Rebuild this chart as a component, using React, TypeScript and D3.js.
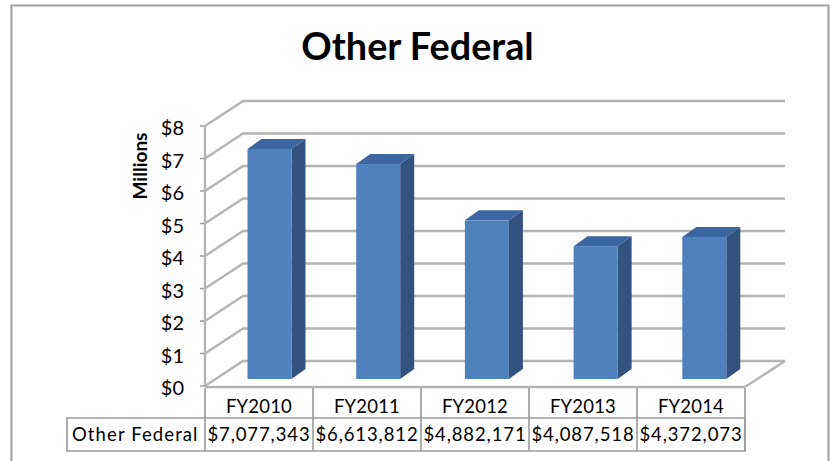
import React from "react";
import * as d3 from "d3";

const categories = ["FY2010", "FY2011", "FY2012", "FY2013", "FY2014"];
const values = [7077343, 6613812, 4882171, 4087518, 4372073];
const valueLabels = ["$7,077,343", "$6,613,812", "$4,882,171", "$4,087,518", "$4,372,073"];
const seriesName = "Other Federal";
const yTicks = [0, 1, 2, 3, 4, 5, 6, 7, 8];

const FONT = "Lato, 'Open Sans', sans-serif";
const GRID = "#b4b4b4";
const LINE = "#9a9a9a";

export default function App() {
  const y = d3.scaleLinear().domain([0, 8000000]).range([386, 126]);
  const x = d3.scaleBand<string>().domain(categories).range([205, 745]);
  const depthX = 38;
  const depthY = -25;
  const barW = 44;
  const barDX = 10.5;
  const barDY = -7;
  const sideX = 14;
  const sideY = -10;
  const tableLeft = 67;
  const rowTop = 388;
  const rowMid = 418;
  const rowBottom = 451;

  return (
    <svg
      width={831}
      height={461}
      style={{ position: "absolute", left: 0, top: 0, background: "#fff" }}
      fontFamily={FONT}
    >
      <defs>
        <filter id="soft" x="-5%" y="-5%" width="110%" height="110%">
          <feGaussianBlur stdDeviation="0.45" />
        </filter>
      </defs>
      <path d="M11.5 461V5.5H828.5V461" fill="none" stroke="#a0a0a0" strokeWidth={2} />
      <text x={417.5} y={60} textAnchor="middle" fontSize={37.8} fontWeight={700} fill="#000">
        {seriesName}
      </text>

      <g filter="url(#soft)">
        {yTicks.map((t) => {
          const v = y(t * 1000000);
          return (
            <g key={t}>
              <path
                d={`M205 ${v}L${205 + depthX} ${v + depthY}H785`}
                fill="none"
                stroke={GRID}
                strokeWidth={2.4}
              />
              <line x1={200} x2={205} y1={v} y2={v} stroke={LINE} strokeWidth={1.5} />
            </g>
          );
        })}
        <line x1={205} x2={205} y1={126} y2={387} stroke={GRID} strokeWidth={2.4} />
        <line x1={205} x2={745} y1={387} y2={387} stroke={GRID} strokeWidth={2.4} />
        <line x1={745} x2={785} y1={387} y2={361} stroke={GRID} strokeWidth={2.4} />

        {categories.map((c, i) => {
          const left = (x(c) as number) + (x.bandwidth() - barW) / 2 + barDX + i * 0.7;
          const base = y(0) + barDY;
          const top = y(values[i]) + barDY;
          return (
            <g key={c}>
              <path
                d={`M${left + barW} ${top}l${sideX} ${sideY}V${base + sideY}l${-sideX} ${-sideY}Z`}
                fill="#31527f"
              />
              <path
                d={`M${left} ${top}l${sideX} ${sideY}h${barW}l${-sideX} ${-sideY}Z`}
                fill="#3b66a0"
              />
              <rect x={left} y={top} width={barW} height={base - top} fill="#4f81bd" />
            </g>
          );
        })}
      </g>

      {yTicks.map((t) => (
        <text key={t} x={184} y={y(t * 1000000) + 9} textAnchor="end" fontSize={20} fill="#000">
          {d3.format("$")(t)}
        </text>
      ))}
      <text
        transform="translate(147,166) rotate(-90)"
        textAnchor="middle"
        fontSize={19}
        fontWeight={700}
        fill="#000"
      >
        Millions
      </text>

      <g stroke={LINE} strokeWidth={1.6} fill="none">
        <path d={`M${tableLeft} ${rowMid}H745V${rowBottom}H${tableLeft}Z`} />
        <line x1={205} x2={205} y1={rowTop} y2={rowBottom} />
        <line x1={745} x2={745} y1={rowTop} y2={rowBottom} />
        {categories.slice(1).map((c) => (
          <line key={c} x1={x(c)} x2={x(c)} y1={rowTop} y2={rowBottom} />
        ))}
      </g>
      {categories.map((c, i) => (
        <g key={c} fontSize={18.5} fill="#000" textAnchor="middle">
          <text x={(x(c) as number) + x.bandwidth() / 2} y={413} letterSpacing={0.2}>{c}</text>
          <text x={(x(c) as number) + x.bandwidth() / 2} y={441} letterSpacing={0.9}>{valueLabels[i]}</text>
        </g>
      ))}
      <text x={72} y={441} fontSize={18.5} fill="#000" letterSpacing={1.1}>{seriesName}</text>
    </svg>
  );
}
